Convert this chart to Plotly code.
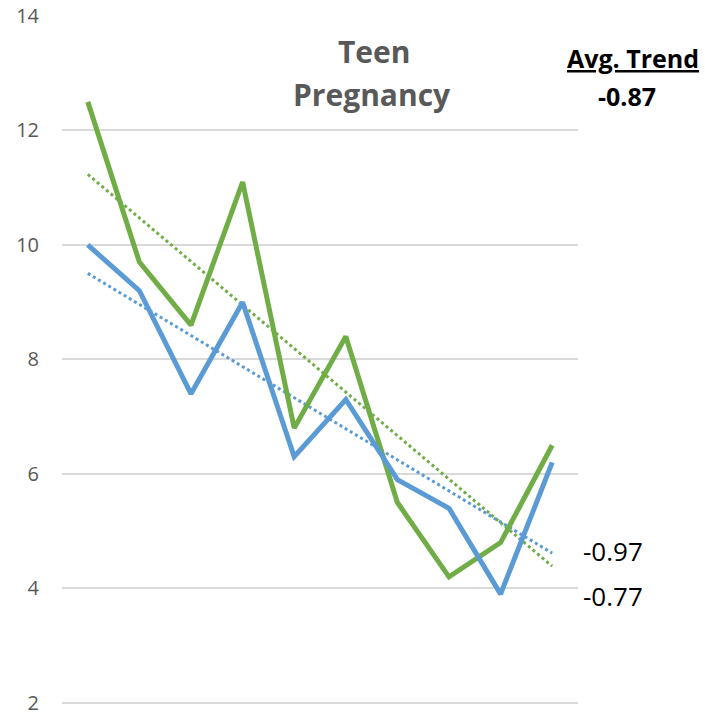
import numpy as np
import plotly.graph_objects as go

categories = list(range(1, 11))
green_values = [12.5, 9.7, 8.6, 11.1, 6.8, 8.4, 5.5, 4.2, 4.8, 6.5]
blue_values = [10.0, 9.2, 7.4, 9.0, 6.3, 7.3, 5.9, 5.4, 3.9, 6.2]
y_ticks = [2, 4, 6, 8, 10, 12, 14]
title_lines = ["Teen", "Pregnancy"]
avg_trend = "-0.87"
trend_labels = ["-0.97", "-0.77"]

GREEN = "#70AD47"
BLUE = "#5B9BD5"

x = np.arange(len(categories))


def trend(vals):
    m, b = np.polyfit(x, vals, 1)
    return (m * x + b).tolist()


fig = go.Figure()
fig.add_trace(go.Scatter(x=categories, y=trend(green_values), mode="lines",
                         line=dict(color=GREEN, width=3, dash="dot"), hoverinfo="skip"))
fig.add_trace(go.Scatter(x=categories, y=trend(blue_values), mode="lines",
                         line=dict(color=BLUE, width=3, dash="dot"), hoverinfo="skip"))
fig.add_trace(go.Scatter(x=categories, y=green_values, mode="lines",
                         line=dict(color=GREEN, width=5)))
fig.add_trace(go.Scatter(x=categories, y=blue_values, mode="lines",
                         line=dict(color=BLUE, width=5)))

L, R, T, B = 62, 578, 16, 704
W, H = 705, 714
Y_RANGE = [1.98, 14.0]


def px(xp):
    return (xp - L) / (R - L)


def py(yp):
    return (B - yp) / (B - T)


ann = []
ann.append(dict(text="<b>%s</b>" % title_lines[0], x=px(374), y=py(52),
                font=dict(family="Open Sans", size=30, color="#595959")))
ann.append(dict(text="<b>%s</b>" % title_lines[1], x=px(372), y=py(95),
                font=dict(family="Open Sans", size=30, color="#595959")))
ann.append(dict(text="<u><b>Avg. Trend</b></u>", x=px(633), y=py(58),
                font=dict(family="Open Sans", size=25, color="#000000")))
ann.append(dict(text="<b>%s</b>" % avg_trend, x=px(627), y=py(96),
                font=dict(family="Open Sans", size=25, color="#000000")))
ann.append(dict(text=trend_labels[0], x=px(581), y=py(551), xanchor="left",
                font=dict(family="Open Sans", size=26, color="#000000")))
ann.append(dict(text=trend_labels[1], x=px(581), y=py(596), xanchor="left",
                font=dict(family="Open Sans", size=26, color="#000000")))
for a in ann:
    a.update(xref="paper", yref="paper", showarrow=False)
    a.setdefault("xanchor", "center")
    a.setdefault("yanchor", "middle")

fig.update_layout(
    width=W, height=H,
    margin=dict(l=L, r=W - R, t=T, b=H - B, pad=0, autoexpand=False),
    paper_bgcolor="white", plot_bgcolor="white",
    showlegend=False,
    annotations=ann,
    xaxis=dict(type="linear", range=[0.5, 10.5], showgrid=False, showticklabels=False,
               zeroline=False, showline=False, ticks="", automargin=False),
    yaxis=dict(range=Y_RANGE, tickvals=y_ticks, showgrid=True, gridcolor="#D9D9D9",
               gridwidth=1.5, zeroline=False, showline=False, ticks="",
               tickfont=dict(family="Open Sans", size=20, color="#595959"),
               ticklabelstandoff=22, ticklabeloverflow="allow", automargin=False),
)

fig.write_html("out.html", config={"displayModeBar": False},
               post_script="document.body.style.margin='0';document.body.style.overflow='hidden';")
